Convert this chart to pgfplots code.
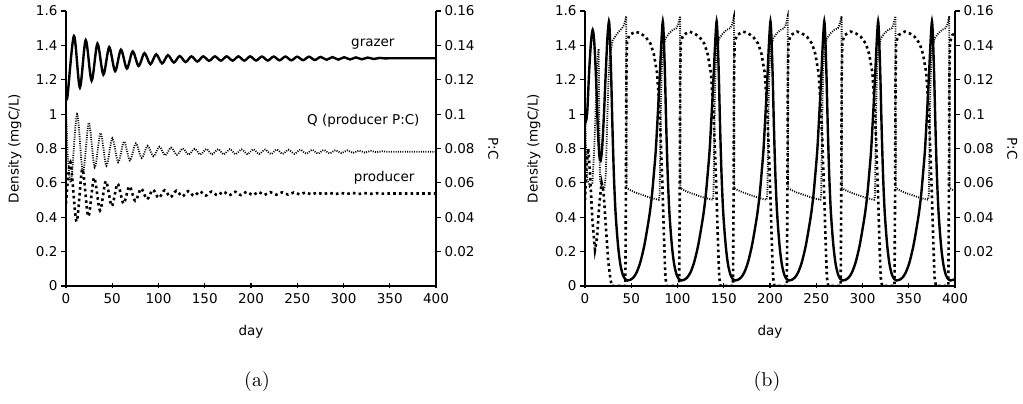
\documentclass[border=0pt]{standalone}
\usepackage{pgfplots}
\pgfplotsset{compat=1.18}
\usepackage{fontspec}
\newfontfamily\dejavu{DejaVu Sans}
\newcommand{\lf}{\dejavu\fontsize{13.5}{15}\selectfont}
\pgfplotsset{
  base/.style={scale only axis, width=370pt, height=275pt, xmin=0, xmax=400,
    /pgf/number format/assume math mode=true,
    tick label style={font=\lf},
    axis line style={line width=1.2pt}, major tick length=5pt,
    every tick/.style={black, line width=1.1pt}},
  leftax/.style={base, ymin=0, ymax=1.6,
    axis x line*=bottom, axis y line*=left,
    xtick={0,50,100,150,200,250,300,350,400},
    ytick={0,0.2,0.4,0.6,0.8,1,1.2,1.4,1.6},
    xtick align=center, ytick align=outside,
    xlabel={day}, ylabel={Density (mgC/L)},
    every axis x label/.style={at={(axis description cs:0.5,-0.167)}, anchor=center, font=\lf},
    every axis y label/.style={at={(axis description cs:-0.138,0.5)}, anchor=center, rotate=90, font=\lf},
    xticklabel style={yshift=-1pt}},
  rightax/.style={base, ymin=0, ymax=0.16,
    axis x line=none, axis y line*=right,
    ytick={0.02,0.04,0.06,0.08,0.1,0.12,0.14,0.16},
    ytick align=outside,
    yticklabel style={/pgf/number format/fixed},
    ylabel={P:C},
    every axis y label/.style={at={(axis description cs:1.155,0.5)}, anchor=center, rotate=-90, font=\lf}},
  grazer/.style={black, line width=2.4pt, smooth},
  prod/.style={black, line width=2.6pt, dash pattern=on 2.6pt off 3.2pt},
  qq/.style={black, line width=1.8pt, dash pattern=on 1pt off 1.3pt},
}
\begin{document}
\begin{tikzpicture}
\useasboundingbox (0,0) rectangle (1023pt,404pt);
% ---------------- panel (a) ----------------
\begin{axis}[leftax, at={(66pt,118pt)}, anchor=south west]
\addplot[grazer] coordinates {(0,1.13) (1.5,1.10) (8.6,1.455) (15.0,1.155) (21.3,1.43) (27.7,1.195) (34.0,1.41) (40.4,1.23) (46.7,1.39) (53.1,1.25) (59.4,1.375) (65.8,1.265) (72.1,1.365) (78.5,1.28) (84.8,1.355) (91.2,1.29) (97.5,1.348) (103.9,1.295) (110.2,1.343) (116.6,1.30) (122.9,1.338) (129.3,1.303) (135.6,1.336) (142.0,1.306) (148.3,1.336) (154.7,1.310) (161.0,1.336) (167.4,1.311) (173.7,1.336) (180.1,1.311) (186.4,1.336) (192.8,1.311) (199.1,1.336) (205.5,1.312) (211.8,1.335) (218.2,1.312) (224.5,1.335) (230.9,1.313) (237.2,1.335) (243.6,1.313) (249.9,1.334) (256.3,1.314) (262.6,1.334) (269.0,1.315) (275.3,1.333) (281.7,1.316) (288.0,1.332) (294.4,1.317) (300.7,1.331) (307.1,1.318) (313.4,1.330) (319.8,1.319) (326.1,1.329) (332.5,1.321) (338.8,1.327) (345,1.324) (352,1.325) (400,1.325)};
\addplot[prod, smooth] coordinates {(0,0.48) (4.8,0.72) (11.4,0.375) (17.7,0.68) (24.1,0.405) (30.4,0.63) (36.8,0.44) (43.1,0.61) (49.5,0.465) (55.8,0.595) (62.2,0.48) (68.5,0.58) (74.9,0.495) (81.2,0.567) (87.6,0.505) (93.9,0.56) (100.3,0.512) (106.6,0.557) (113.0,0.517) (119.3,0.554) (125.7,0.521) (132.0,0.552) (138.4,0.524) (144.7,0.550) (151.1,0.526) (157.4,0.549) (163.8,0.527) (170.1,0.549) (176.5,0.528) (182.8,0.548) (189.2,0.529) (195.5,0.548) (201.9,0.529) (208.2,0.547) (214.6,0.530) (220.9,0.546) (227.3,0.531) (233.6,0.545) (240.0,0.532) (246.3,0.544) (252.7,0.533) (259.0,0.544) (265.4,0.533) (271.7,0.543) (278.1,0.534) (284.4,0.543) (290.8,0.534) (297.1,0.542) (303.5,0.535) (309.8,0.542) (316.2,0.535) (322.5,0.541) (328.9,0.536) (335.2,0.540) (341.6,0.537) (350,0.538) (400,0.538)};
\node[font=\lf, anchor=east] at (axis cs:359,1.408) {grazer};
\node[font=\lf, anchor=east] at (axis cs:386,0.96) {Q (producer P:C)};
\node[font=\lf, anchor=east] at (axis cs:380.5,0.628) {producer};
\end{axis}
\begin{axis}[rightax, at={(66pt,118pt)}, anchor=south west]
\addplot[qq, smooth] coordinates {(0,0.105) (2,0.075) (5.6,0.061) (12,0.100) (18.3,0.066) (24.7,0.095) (31,0.069) (37.4,0.089) (43.7,0.070) (50.1,0.086) (56.4,0.072) (62.8,0.084) (69.1,0.073) (75.5,0.083) (81.8,0.0745) (88.2,0.0815) (94.5,0.0755) (100.9,0.081) (107.2,0.076) (113.6,0.0805) (119.9,0.0763) (126.3,0.0800) (132.6,0.0764) (139.0,0.0798) (145.3,0.0765) (151.7,0.0797) (158.0,0.0766) (164.4,0.0796) (170.7,0.0766) (177.1,0.0796) (183.4,0.0767) (189.8,0.0795) (196.1,0.0767) (202.5,0.0795) (208.8,0.0768) (215.2,0.0794) (221.5,0.0768) (227.9,0.0794) (234.2,0.0769) (240.6,0.0793) (246.9,0.0769) (253.3,0.0793) (259.6,0.0770) (266.0,0.0792) (272.3,0.0771) (278.7,0.0791) (285.0,0.0772) (291.4,0.0790) (297.7,0.0773) (304.1,0.0789) (310.4,0.0774) (316.8,0.0788) (323.1,0.0776) (329.5,0.0786) (335.8,0.0778) (342.2,0.0784) (350,0.0781) (400,0.0781)};
\end{axis}
% ---------------- panel (b) ----------------
\begin{axis}[leftax, at={(585pt,118pt)}, anchor=south west]
\addplot[grazer] coordinates {(0,1.0) (1,0.96) (2.5,1.02) (4.5,1.25) (6.5,1.42) (8.3,1.49) (10,1.42) (12,1.2) (14,0.9) (15.5,0.76) (16.9,0.73) (18.5,0.8) (20.5,1.0) (22.5,1.25) (24.3,1.45) (25.9,1.54)
(26.7,1.48) (27.5,1.36) (28.4,1.2) (29.3,1.0) (30.2,0.82) (31.4,0.62) (32.9,0.44) (34.7,0.3) (36.4,0.2) (38.4,0.12) (40.9,0.065) (43.4,0.04) (45.9,0.032) (48.9,0.036) (52.4,0.05) (55.9,0.08) (59.9,0.14) (63.9,0.23) (66.9,0.32) (69.9,0.42) (72.4,0.53) (74.4,0.65) (76.4,0.78) (77.9,0.92) (79.4,1.07) (80.9,1.23) (82.2,1.38) (83.2,1.48) (84.1,1.54)
(84.9,1.48) (85.7,1.36) (86.6,1.2) (87.5,1.0) (88.4,0.82) (89.6,0.62) (91.1,0.44) (92.9,0.3) (94.6,0.2) (96.6,0.12) (99.1,0.065) (101.6,0.04) (104.1,0.032) (107.1,0.036) (110.6,0.05) (114.1,0.08) (118.1,0.14) (122.1,0.23) (125.1,0.32) (128.1,0.42) (130.6,0.53) (132.6,0.65) (134.6,0.78) (136.1,0.92) (137.6,1.07) (139.1,1.23) (140.4,1.38) (141.4,1.48) (142.3,1.54)
(143.1,1.48) (143.9,1.36) (144.8,1.2) (145.7,1.0) (146.6,0.82) (147.8,0.62) (149.3,0.44) (151.1,0.3) (152.8,0.2) (154.8,0.12) (157.3,0.065) (159.8,0.04) (162.3,0.032) (165.3,0.036) (168.8,0.05) (172.3,0.08) (176.3,0.14) (180.3,0.23) (183.3,0.32) (186.3,0.42) (188.8,0.53) (190.8,0.65) (192.8,0.78) (194.3,0.92) (195.8,1.07) (197.3,1.23) (198.6,1.38) (199.6,1.48) (200.5,1.54)
(201.3,1.48) (202.1,1.36) (203.0,1.2) (203.9,1.0) (204.8,0.82) (206.0,0.62) (207.5,0.44) (209.3,0.3) (211.0,0.2) (213.0,0.12) (215.5,0.065) (218.0,0.04) (220.5,0.032) (223.5,0.036) (227.0,0.05) (230.5,0.08) (234.5,0.14) (238.5,0.23) (241.5,0.32) (244.5,0.42) (247.0,0.53) (249.0,0.65) (251.0,0.78) (252.5,0.92) (254.0,1.07) (255.5,1.23) (256.8,1.38) (257.8,1.48) (258.7,1.54)
(259.5,1.48) (260.3,1.36) (261.2,1.2) (262.1,1.0) (263.0,0.82) (264.2,0.62) (265.7,0.44) (267.5,0.3) (269.2,0.2) (271.2,0.12) (273.7,0.065) (276.2,0.04) (278.7,0.032) (281.7,0.036) (285.2,0.05) (288.7,0.08) (292.7,0.14) (296.7,0.23) (299.7,0.32) (302.7,0.42) (305.2,0.53) (307.2,0.65) (309.2,0.78) (310.7,0.92) (312.2,1.07) (313.7,1.23) (315.0,1.38) (316.0,1.48) (316.9,1.54)
(317.7,1.48) (318.5,1.36) (319.4,1.2) (320.3,1.0) (321.2,0.82) (322.4,0.62) (323.9,0.44) (325.7,0.3) (327.4,0.2) (329.4,0.12) (331.9,0.065) (334.4,0.04) (336.9,0.032) (339.9,0.036) (343.4,0.05) (346.9,0.08) (350.9,0.14) (354.9,0.23) (357.9,0.32) (360.9,0.42) (363.4,0.53) (365.4,0.65) (367.4,0.78) (368.9,0.92) (370.4,1.07) (371.9,1.23) (373.2,1.38) (374.2,1.48) (375.1,1.54)
(375.9,1.48) (376.7,1.36) (377.6,1.2) (378.5,1.0) (379.4,0.82) (380.6,0.62) (382.1,0.44) (383.9,0.3) (385.6,0.2) (387.6,0.12) (390.1,0.065) (392.6,0.04) (395.1,0.032) (398.1,0.036) (400,0.04)};
\addplot[prod] coordinates {(0,0.5) (1.5,0.68) (3.5,0.8) (5.5,0.65) (8,0.38) (10.8,0.21) (13,0.28) (15.5,0.48) (18,0.6) (20,0.55) (22.5,0.35) (25,0.15) (27.5,0.04) (29,0) (43.6,0)
(44.2,0.5) (44.7,1.2) (45.4,1.42) (47.9,1.46) (54.6,1.48) (59.9,1.47) (65.4,1.45) (70.8,1.41) (74.4,1.35) (77.9,1.24) (79.9,1.08) (81.9,0.85) (83.9,0.55) (85.4,0.28) (86.9,0.05) (88.4,0) (101.8,0)
(102.4,0.5) (102.9,1.2) (103.6,1.42) (106.1,1.46) (112.8,1.48) (118.1,1.47) (123.6,1.45) (129.0,1.41) (132.6,1.35) (136.1,1.24) (138.1,1.08) (140.1,0.85) (142.1,0.55) (143.6,0.28) (145.1,0.05) (146.6,0) (160.0,0)
(160.6,0.5) (161.1,1.2) (161.8,1.42) (164.3,1.46) (171.0,1.48) (176.3,1.47) (181.8,1.45) (187.2,1.41) (190.8,1.35) (194.3,1.24) (196.3,1.08) (198.3,0.85) (200.3,0.55) (201.8,0.28) (203.3,0.05) (204.8,0) (218.2,0)
(218.8,0.5) (219.3,1.2) (220.0,1.42) (222.5,1.46) (229.2,1.48) (234.5,1.47) (240.0,1.45) (245.4,1.41) (249.0,1.35) (252.5,1.24) (254.5,1.08) (256.5,0.85) (258.5,0.55) (260.0,0.28) (261.5,0.05) (263.0,0) (276.4,0)
(277.0,0.5) (277.5,1.2) (278.2,1.42) (280.7,1.46) (287.4,1.48) (292.7,1.47) (298.2,1.45) (303.6,1.41) (307.2,1.35) (310.7,1.24) (312.7,1.08) (314.7,0.85) (316.7,0.55) (318.2,0.28) (319.7,0.05) (321.2,0) (334.6,0)
(335.2,0.5) (335.7,1.2) (336.4,1.42) (338.9,1.46) (345.6,1.48) (350.9,1.47) (356.4,1.45) (361.8,1.41) (365.4,1.35) (368.9,1.24) (370.9,1.08) (372.9,0.85) (374.9,0.55) (376.4,0.28) (377.9,0.05) (379.4,0) (392.8,0)
(393.4,0.5) (393.9,1.2) (394.6,1.42) (397.1,1.46) (400,1.47)};
\end{axis}
\begin{axis}[rightax, at={(585pt,118pt)}, anchor=south west]
\addplot[qq] coordinates {(0,0.105) (1,0.08) (2.5,0.062) (5,0.058) (8,0.06) (10,0.08) (12,0.11) (13.5,0.132) (14.8,0.138) (15.4,0.10) (16.2,0.062) (18,0.058) (21,0.057) (22.5,0.065) (24,0.095) (25.5,0.122) (27,0.135) (30,0.143) (35,0.147) (40,0.15) (42.4,0.152)
(44.6,0.157) (44.9,0.057) (47.9,0.056) (53.9,0.0545) (61.9,0.053) (69.9,0.0515) (76.9,0.0505) (79.9,0.0502) (80.7,0.053) (81.4,0.08) (82.2,0.11) (83.1,0.128) (84.4,0.138) (86.9,0.144) (90.9,0.147) (94.9,0.149) (98.9,0.150) (100.6,0.152)
(102.8,0.157) (103.1,0.057) (106.1,0.056) (112.1,0.0545) (120.1,0.053) (128.1,0.0515) (135.1,0.0505) (138.1,0.0502) (138.9,0.053) (139.6,0.08) (140.4,0.11) (141.3,0.128) (142.6,0.138) (145.1,0.144) (149.1,0.147) (153.1,0.149) (157.1,0.150) (158.8,0.152)
(161.0,0.157) (161.3,0.057) (164.3,0.056) (170.3,0.0545) (178.3,0.053) (186.3,0.0515) (193.3,0.0505) (196.3,0.0502) (197.1,0.053) (197.8,0.08) (198.6,0.11) (199.5,0.128) (200.8,0.138) (203.3,0.144) (207.3,0.147) (211.3,0.149) (215.3,0.150) (217.0,0.152)
(219.2,0.157) (219.5,0.057) (222.5,0.056) (228.5,0.0545) (236.5,0.053) (244.5,0.0515) (251.5,0.0505) (254.5,0.0502) (255.3,0.053) (256.0,0.08) (256.8,0.11) (257.7,0.128) (259.0,0.138) (261.5,0.144) (265.5,0.147) (269.5,0.149) (273.5,0.150) (275.2,0.152)
(277.4,0.157) (277.7,0.057) (280.7,0.056) (286.7,0.0545) (294.7,0.053) (302.7,0.0515) (309.7,0.0505) (312.7,0.0502) (313.5,0.053) (314.2,0.08) (315.0,0.11) (315.9,0.128) (317.2,0.138) (319.7,0.144) (323.7,0.147) (327.7,0.149) (331.7,0.150) (333.4,0.152)
(335.6,0.157) (335.9,0.057) (338.9,0.056) (344.9,0.0545) (352.9,0.053) (360.9,0.0515) (367.9,0.0505) (370.9,0.0502) (371.7,0.053) (372.4,0.08) (373.2,0.11) (374.1,0.128) (375.4,0.138) (377.9,0.144) (381.9,0.147) (385.9,0.149) (389.9,0.150) (391.6,0.152)
(393.8,0.157) (394.1,0.057) (397.1,0.056) (400,0.0555)};
\end{axis}
\node[scale=2.0, inner sep=0pt] at (257pt,22pt) {(a)};
\node[scale=2.0, inner sep=0pt] at (767pt,22pt) {(b)};
\end{tikzpicture}
\end{document}
